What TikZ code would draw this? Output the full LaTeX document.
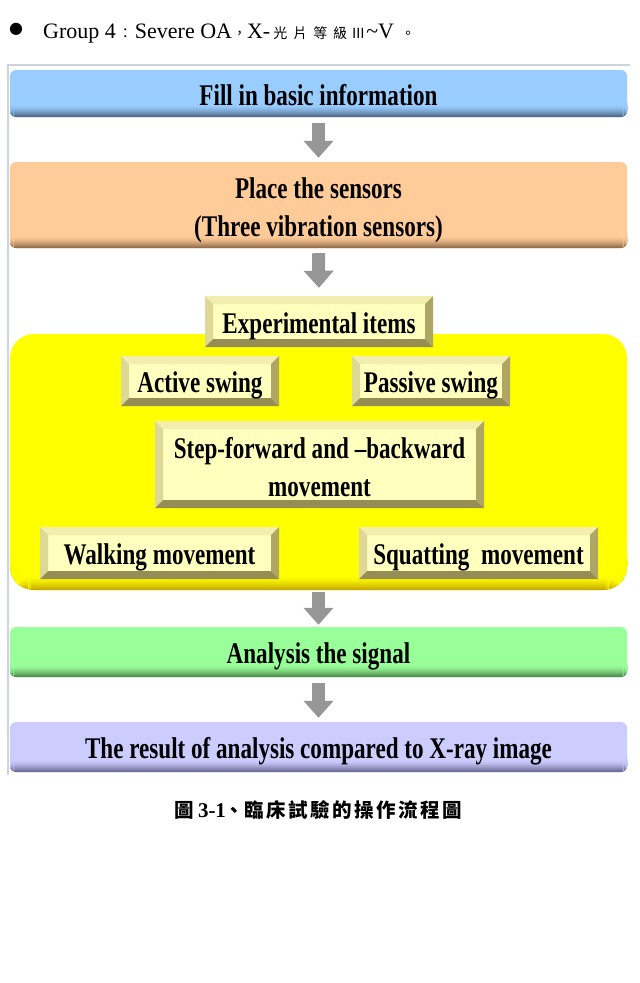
\documentclass[tikz,border=0pt]{standalone}
\usepackage{fontspec}
\setmainfont{Liberation Serif}
\newfontfamily\condfont[FakeStretch=0.77]{Liberation Serif}
\newfontfamily\cjkfont{Noto Sans CJK TC}
\newfontfamily\symfont{DejaVu Sans}
\usetikzlibrary{arrows.meta}
\definecolor{frameline}{RGB}{205,212,222}
\definecolor{bluef}{RGB}{153,204,255}
\definecolor{blued}{RGB}{80,105,135}
\definecolor{orangef}{RGB}{255,204,153}
\definecolor{oranged}{RGB}{150,110,75}
\definecolor{greenf}{RGB}{153,255,153}
\definecolor{greend}{RGB}{80,140,80}
\definecolor{purplef}{RGB}{204,204,255}
\definecolor{purpled}{RGB}{105,105,145}
\definecolor{yellowf}{RGB}{255,255,0}
\definecolor{yellowd}{RGB}{200,170,0}
\definecolor{bface}{RGB}{255,255,190}
\definecolor{btop}{RGB}{242,238,175}
\definecolor{bleft}{RGB}{222,216,150}
\definecolor{bright}{RGB}{175,166,100}
\definecolor{bbottom}{RGB}{150,141,85}
\definecolor{arrowgray}{RGB}{150,150,150}
\newcommand\hdcj[2]{\makebox[#1][c]{\cjkfont\fontsize{14}{16}\selectfont #2}}
\newcommand\capcj[2]{\makebox[#1][c]{\cjkfont\bfseries\fontsize{19.5}{20}\selectfont #2}}
\tikzset{
  boxfont/.style={font=\condfont\bfseries\fontsize{30}{38}\selectfont},
  bottomfade/.style n args={3}{path picture={
      \foreach \i [evaluate=\i as \p using {100*(1-(\i-1)/#3)^1.4}] in {1,...,#3}{
        \fill[#2!\p!#1] ([yshift={(\i-1)*1pt}]path picture bounding box.south west)
          rectangle ([yshift={\i*1pt+0.3pt}]path picture bounding box.south east);}
    }},
  flowbox/.style 2 args={boxfont, rounded corners=6pt, minimum width=617pt,
    inner sep=0pt, align=center, text=black, fill=#1, bottomfade={#1}{#2}{11}},
  oneline/.style={text height=23pt, text depth=0pt},
  bevelbox/.style={boxfont, inner sep=0pt, align=center, text=black, fill=bface,
    path picture={
      \coordinate (pnw) at (path picture bounding box.north west);
      \coordinate (pne) at (path picture bounding box.north east);
      \coordinate (psw) at (path picture bounding box.south west);
      \coordinate (pse) at (path picture bounding box.south east);
      \fill[btop] (pnw) -- (pne) -- ([xshift=-8pt,yshift=-8pt]pne) -- ([xshift=8pt,yshift=-8pt]pnw) -- cycle;
      \fill[bleft] (pnw) -- ([xshift=8pt,yshift=-8pt]pnw) -- ([xshift=8pt,yshift=8pt]psw) -- (psw) -- cycle;
      \fill[bright] (pne) -- (pse) -- ([xshift=-8pt,yshift=8pt]pse) -- ([xshift=-8pt,yshift=-8pt]pne) -- cycle;
      \fill[bbottom] (psw) -- (pse) -- ([xshift=-8pt,yshift=8pt]pse) -- ([xshift=8pt,yshift=8pt]psw) -- cycle;
    }},
  blockarrow/.style={draw=arrowgray, line width=13pt,
    -{Triangle[width=29pt,length=17pt,color=arrowgray]}}
}
\begin{document}
\begin{tikzpicture}[x=1pt,y=-1pt]
\useasboundingbox (0,0) rectangle (640,983);
\fill[white] (0,0) rectangle (640,983);

% header line
\node[anchor=center, inner sep=0pt] (bullet) at (16,29) {\symfont\fontsize{16}{16}\selectfont ●};
\node[anchor=base west, inner sep=0pt, font=\fontsize{22}{22}\selectfont] (header) at (43,38)
  {Group 4\hdcj{19pt}{：}Severe OA\hdcj{15pt}{，}X-\hdcj{20pt}{光}\hdcj{20pt}{片}\hdcj{20pt}{等}\hdcj{20pt}{級}\hdcj{16pt}{Ⅲ}\textasciitilde V\hdcj{28pt}{。}};

% frame lines
\coordinate (ftl) at (8,65);
\coordinate (ftr) at (630,65);
\coordinate (fbl) at (8,775);
\draw[frameline, line width=1.5pt] (ftr) -- (ftl) -- (fbl);

% main boxes
\node[flowbox={bluef}{blued}, oneline, minimum height=47pt] (fill) at (318.5,93.5) {Fill in basic information};
\node[flowbox={orangef}{oranged}, minimum height=86pt] (place) at (318.5,205)
  {\rule{0pt}{31pt}Place the sensors\\(Three vibration sensors)};

% yellow region
\node[rounded corners=24pt, minimum width=617pt, minimum height=256pt, inner sep=0pt,
  fill=yellowf, bottomfade={yellowf}{yellowd}{13}] (items) at (318.5,462) {};

\node[bevelbox, oneline, minimum width=228pt, minimum height=51pt] (exp) at (319,321.5) {Experimental items};
\node[bevelbox, oneline, minimum width=158pt, minimum height=50pt] (active) at (200,381) {Active swing};
\node[bevelbox, oneline, minimum width=158pt, minimum height=50pt] (passive) at (431,381) {Passive swing};
\node[bevelbox, minimum width=329pt, minimum height=87pt] (stepfb) at (319.5,464.5)
  {\rule{0pt}{26pt}Step-forward and \textendash backward\\movement};
\node[bevelbox, oneline, minimum width=239pt, minimum height=52pt] (walk) at (159.5,553) {Walking movement};
\node[bevelbox, oneline, minimum width=239pt, minimum height=52pt] (squat) at (478.5,553) {Squatting\ \ movement};

\node[flowbox={greenf}{greend}, oneline, minimum height=50pt] (signal) at (318.5,652) {Analysis the signal};
\node[flowbox={purplef}{purpled}, oneline, minimum height=50pt] (result) at (318.5,747)
  {The result of analysis compared to X-ray image};

% arrows
\draw[blockarrow, shorten <=6pt, shorten >=4pt] (fill.south) -- (place.north);
\draw[blockarrow, shorten <=5pt, shorten >=8pt] (place.south) -- (exp.north);
\draw[blockarrow, shorten <=2pt, shorten >=2pt] (items.south) -- (signal.north);
\draw[blockarrow, shorten <=6pt, shorten >=4pt] (signal.south) -- (result.north);

% caption
\node[inner sep=0pt, font=\bfseries\fontsize{21}{21}\selectfont] (caption) at (318,810)
  {\capcj{22pt}{圖}\hspace{3pt}3-1\capcj{17pt}{、}\capcj{22pt}{臨}\capcj{22pt}{床}\capcj{22pt}{試}\capcj{22pt}{驗}\capcj{22pt}{的}\capcj{22pt}{操}\capcj{22pt}{作}\capcj{22pt}{流}\capcj{22pt}{程}\capcj{22pt}{圖}};
\end{tikzpicture}
\end{document}
